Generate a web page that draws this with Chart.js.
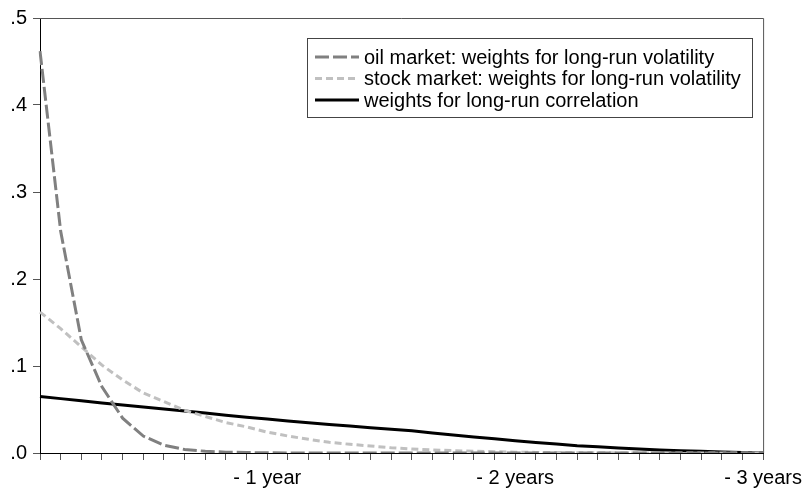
<!DOCTYPE html>
<html>
<head>
<meta charset="utf-8">
<script src="https://cdn.jsdelivr.net/npm/chart.js@4/dist/chart.umd.min.js"></script>
<style>
  html, body { margin: 0; padding: 0; background: #fff; }
  #wrap { width: 808px; height: 491px; position: relative; }
</style>
</head>
<body>
<div id="wrap"><canvas id="c" width="808" height="491"></canvas></div>
<script>
// lags (months back), 36 lags
const lags = [1,2,3,4,5,6,7,8,9,10,11,12,13,14,15,16,17,18,19,20,21,22,23,24,25,26,27,28,29,30,31,32,33,34,35,36];
const xTickLabels = {12: '- 1 year', 24: '- 2 years', 36: '- 3 years'};
const yTickLabels = ['.0', '.1', '.2', '.3', '.4', '.5'];

const oilWeights = [0.462, 0.255, 0.130, 0.076, 0.040, 0.0195, 0.009, 0.004, 0.002, 0.001, 0.0005, 0.0002,
  0, 0, 0, 0, 0, 0, 0, 0, 0, 0, 0, 0, 0, 0, 0, 0, 0, 0, 0, 0, 0, 0, 0, 0];
const stockWeights = [0.162, 0.143, 0.122, 0.101, 0.084, 0.069, 0.059, 0.049, 0.042, 0.035, 0.030, 0.024,
  0.0195, 0.0157, 0.0123, 0.010, 0.008, 0.006, 0.0046, 0.0035, 0.0027, 0.002, 0.0015, 0.001,
  0.0007, 0.0005, 0.0003, 0.0002, 0.0001, 0, 0, 0, 0, 0, 0, 0];
const corrWeights = [0.065, 0.0625, 0.060, 0.0575, 0.0553, 0.053, 0.0507, 0.0483, 0.046, 0.0435, 0.041, 0.039,
  0.0368, 0.0348, 0.0328, 0.031, 0.029, 0.0272, 0.0255, 0.023, 0.0206, 0.0185, 0.0163, 0.0141,
  0.0122, 0.0103, 0.0084, 0.0071, 0.0058, 0.0046, 0.0035, 0.0027, 0.002, 0.0012, 0.0005, 0];

const seriesNames = [
  'oil market: weights for long-run volatility',
  'stock market: weights for long-run volatility',
  'weights for long-run correlation'
];

const FONT = '"Liberation Sans", Arial, sans-serif';

const framePlugin = {
  id: 'frame',
  afterDatasetsDraw(chart) {
    const {ctx, chartArea: a} = chart;
    ctx.save();
    ctx.strokeStyle = '#555';
    ctx.lineWidth = 1;
    ctx.beginPath();
    ctx.moveTo(a.left, a.top + 0.5);
    ctx.lineTo(a.right + 0.5, a.top + 0.5);
    ctx.lineTo(a.right + 0.5, a.bottom);
    ctx.stroke();
    ctx.restore();
  }
};

const boxLegendPlugin = {
  id: 'boxLegend',
  afterDraw(chart) {
    const ctx = chart.ctx;
    const x0 = 307.5, y0 = 38.5, w = 445, h = 79;
    ctx.save();
    ctx.fillStyle = '#fff';
    ctx.fillRect(x0, y0, w, h);
    ctx.strokeStyle = '#444';
    ctx.lineWidth = 1;
    ctx.strokeRect(x0, y0, w, h);
    const rowY = [57, 78.5, 100];
    chart.data.datasets.forEach((ds, i) => {
      ctx.beginPath();
      ctx.strokeStyle = ds.borderColor;
      ctx.lineWidth = ds.borderWidth;
      ctx.setLineDash(ds.borderDash || []);
      ctx.moveTo(315, rowY[i]);
      ctx.lineTo(359, rowY[i]);
      ctx.stroke();
      ctx.setLineDash([]);
      ctx.fillStyle = '#000';
      ctx.font = '20px ' + FONT;
      ctx.textBaseline = 'middle';
      ctx.textAlign = 'left';
      ctx.fillText(ds.label, 364, rowY[i] + 1);
    });
    ctx.restore();
  }
};

new Chart(document.getElementById('c'), {
  type: 'line',
  data: {
    labels: lags,
    datasets: [
      { label: seriesNames[0], data: oilWeights, borderColor: '#808080', borderWidth: 3, borderDash: [14, 4], pointRadius: 0, tension: 0, fill: false },
      { label: seriesNames[1], data: stockWeights, borderColor: '#c0c0c0', borderWidth: 3, borderDash: [7, 4], pointRadius: 0, tension: 0, fill: false },
      { label: seriesNames[2], data: corrWeights, borderColor: '#000000', borderWidth: 3, pointRadius: 0, tension: 0, fill: false }
    ]
  },
  options: {
    responsive: false,
    animation: false,
    layout: { padding: { left: 0, right: 41, top: 17, bottom: 0 } },
    plugins: { legend: { display: false }, tooltip: { enabled: false } },
    scales: {
      x: {
        type: 'category',
        offset: false,
        grid: { drawOnChartArea: false, drawTicks: true, tickLength: 7, color: '#555', tickWidth: 1 },
        border: { display: true, color: '#000', width: 1 },
        ticks: {
          autoSkip: false, maxRotation: 0, minRotation: 0, padding: 6,
          color: '#000', font: { family: FONT, size: 20 },
          callback: function(v, i) { const l = lags[i]; return xTickLabels[l] || ''; }
        },
        afterFit(scale) { scale.height = 38; }
      },
      y: {
        min: 0, max: 0.5,
        grid: { drawOnChartArea: false, drawTicks: true, tickLength: 7, color: '#555', tickWidth: 1 },
        border: { display: true, color: '#000', width: 1 },
        ticks: {
          stepSize: 0.1, padding: 6, color: '#000', font: { family: FONT, size: 20 },
          callback: function(v) { return yTickLabels[Math.round(v * 10)]; }
        },
        afterFit(scale) { scale.width = 40; }
      }
    }
  },
  plugins: [framePlugin, boxLegendPlugin]
});
</script>
</body>
</html>
